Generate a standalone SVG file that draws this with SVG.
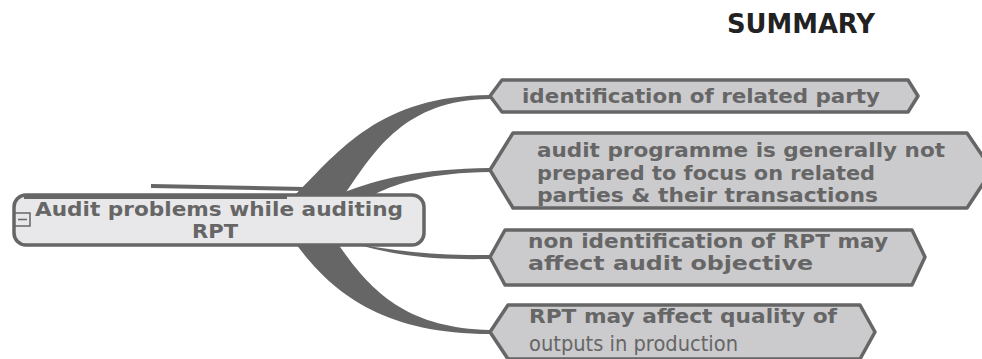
<svg xmlns="http://www.w3.org/2000/svg" width="982" height="359" viewBox="0 0 982 359">
<style>
  .br { fill: #666666; }
  .hex { fill: #cbcbcd; stroke: #666666; stroke-width: 3.5; stroke-linejoin: round; }
  .t { font-family: "DejaVu Sans", Verdana, sans-serif; font-weight: bold; font-size: 20px; fill: #666666; }
  .c { font-family: "DejaVu Sans Condensed", "DejaVu Sans", sans-serif; font-weight: normal; font-size: 22px; fill: #666666; }
</style>
<rect width="982" height="359" fill="#ffffff"/>
<text x="727" y="33" font-family="DejaVu Sans, Verdana, sans-serif" font-weight="bold" font-size="27px" fill="#222222" textLength="148" lengthAdjust="spacingAndGlyphs">SUMMARY</text>
<g id="connectors">
  <path class="br" d="M296,194 C340,150 380,96 490,95 L490,99 C405,100 375,150 345,194 Z"/>
  <path class="br" d="M340,194 C380,178 420,169 490,168 L490,172 C430,173 400,182 375,194 Z"/>
  <path class="br" d="M330,240 C390,250 430,256 490,255 L490,259 C430,260 400,256 355,244 Z"/>
  <path class="br" d="M296,244 C330,290 380,334 490,334 L490,330 C405,328 370,290 338,244 Z"/>
  <path d="M151,186 L305,189" stroke="#666666" stroke-width="4" fill="none"/>
</g>
<g id="central">
  <rect x="14" y="195" width="410" height="50" rx="12" fill="#e8e8ea" stroke="#666666" stroke-width="3.5"/>
  <path d="M24,197.5 L287,197.5" stroke="#666666" stroke-width="3"/>
  <rect x="15" y="213" width="15" height="13" fill="#e8e8ea" stroke="#666666" stroke-width="1.5"/>
  <path d="M18,219.5 L27,219.5" stroke="#666666" stroke-width="1.5"/>
  <text class="t" x="35" y="216" textLength="368" lengthAdjust="spacingAndGlyphs">Audit problems while auditing</text>
  <text class="t" x="192" y="238" textLength="46" lengthAdjust="spacingAndGlyphs">RPT</text>
</g>
<g id="node1">
  <polygon class="hex" points="502,80 908,80 918,96 908,112 502,112 490,96"/>
  <text class="t" x="522" y="103" textLength="358" lengthAdjust="spacingAndGlyphs">identification of related party</text>
</g>
<g id="node2">
  <polygon class="hex" points="513,133 967,133 992,170 967,208 513,208 490,170"/>
  <text class="t" x="537" y="157" textLength="408" lengthAdjust="spacingAndGlyphs">audit programme is generally not</text>
  <text class="t" x="537" y="180" textLength="338" lengthAdjust="spacingAndGlyphs">prepared to focus on related</text>
  <text class="t" x="537" y="202" textLength="341" lengthAdjust="spacingAndGlyphs">parties &amp; their transactions</text>
</g>
<g id="node3">
  <polygon class="hex" points="505,230 912,230 925,257 912,285 505,285 490,257"/>
  <text class="t" x="528" y="248" textLength="360" lengthAdjust="spacingAndGlyphs">non identification of RPT may</text>
  <text class="t" x="528" y="270" textLength="285" lengthAdjust="spacingAndGlyphs">affect audit objective</text>
</g>
<g id="node4">
  <polygon class="hex" points="508,305 860,305 875,332 860,359 508,359 490,332"/>
  <text class="t" x="529" y="323" textLength="308" lengthAdjust="spacingAndGlyphs">RPT may affect quality of</text>
  <text class="c" x="529" y="351" textLength="209" lengthAdjust="spacingAndGlyphs">outputs in production</text>
</g>
</svg>
